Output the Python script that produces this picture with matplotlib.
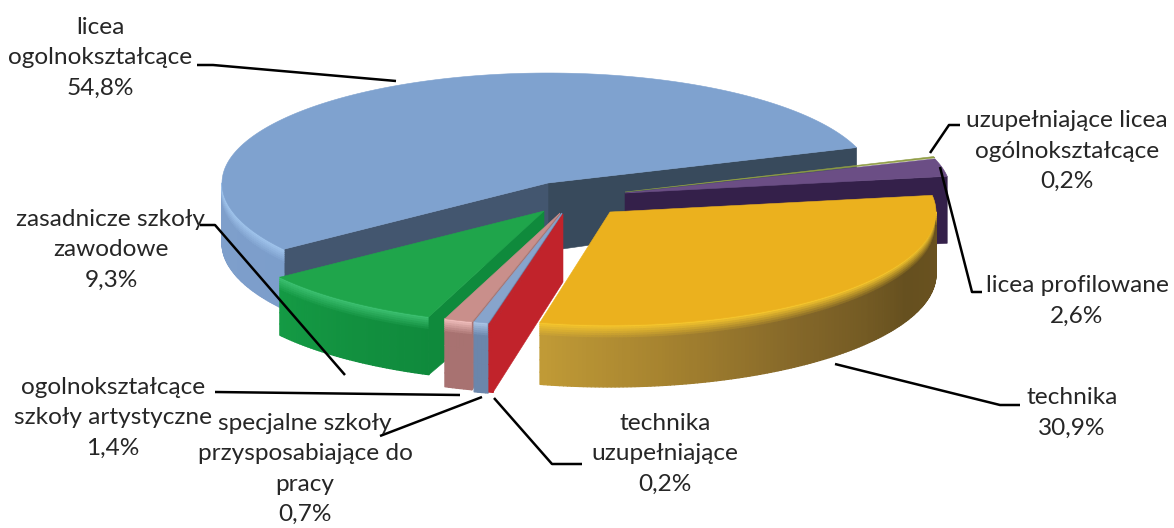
"""3D exploded pie: share of pupils by school type (drawn by hand, matplotlib has no 3D pie)."""
import numpy as np
import matplotlib
matplotlib.use("Agg")
import matplotlib.pyplot as plt
from matplotlib.collections import PolyCollection
from matplotlib.colors import to_rgb

plt.rcParams["font.family"] = ["Lato", "DejaVu Sans"]

# data, counter-clockwise starting from the big slice
SHARES = [54.8, 9.3, 1.4, 0.7, 0.2, 30.9, 2.6, 0.2]

LABELS = [
    "licea\nogolnokształcące\n54,8%",
    "zasadnicze szkoły\nzawodowe\n9,3%",
    "ogolnokształcące\nszkoły artystyczne\n1,4%",
    "specjalne szkoły\nprzysposabiające do\npracy\n0,7%",
    "technika\nuzupełniające\n0,2%",
    "technika\n30,9%",
    "licea profilowane\n2,6%",
    "uzupełniające licea\nogólnokształcące\n0,2%",
]

# layout (pixels)
START_ANGLE = 18.8
RX, RY_BACK, RY_FRONT = 326, 110, 113
APEX = [(548, 183), (544, 211), (560, 213), (562, 213), (563, 214), (610, 212), (625, 193), (625, 192)]
DEPTH_OUT = [60, 58, 68, 70, 68, 62, 67, 67]
DEPTH_IN = [68, 66, 68, 70, 68, 62, 67, 67]

LABEL_POS = [(100, 58), (111, 250), (113, 418), (305, 469), (665, 454), (1072, 413), (1077, 301), (1067, 151)]

LEADERS = [
    [(197, 65), (213, 65), (396, 81)],
    [(200, 225), (215, 225), (345, 375)],
    [(215, 392), (460, 395)],
    [(482, 397), (380, 436)],
    [(494, 398), (552, 464), (582, 464)],
    [(835, 364), (1000, 405), (1020, 405)],
    [(940, 167), (972, 292), (982, 292)],
    [(930, 153), (949, 125), (960, 125)],
]

# styles per slice
TOP = ["#7fa2cf", "#1fa54b", "#c98f8b", "#87a4cc", "#c1232b", "#ebb11e", "#6b4e85", "#8f9c45"]
RIM = ["#a0c4ec", "#3cc070", "#f0bdbb", "#a9c4e6", "#c1232b", "#f5c52c", "#6b4e85", "#8f9c45"]
FACE_END = [None, "#0f8a3c", "#a87271", "#6b86ab", "#c1232b", None, None, None]
SIDE_STOPS = [
    [(180, "#7f9fcb"), (216, "#7c9ecb")],
    [(216, "#149a44"), (235, "#12903f"), (250, "#0f8a3c")],
    [(250, "#a87271"), (255, "#a87271")],
    [(254, "#6b86ab"), (258, "#6b86ab")],
    [(257, "#c1232b"), (258, "#c1232b")],
    [(258, "#c09a36"), (280, "#a5822f"), (305, "#846729"), (335, "#66501f"), (360, "#6a5220")],
    [(0, "#34204a"), (360, "#34204a")],
    [(0, "#34204a"), (360, "#34204a")],
]
BLUE_FACES = ["#43566f", "#384a5c"]
PURPLE_FACE = "#34204a"

DRAW_ORDER = [0, 6, 7, 1, 2, 3, 4, 5]


def arc_xy(apex, deg):
    t = np.radians(deg)
    s = np.sin(t)
    ry = np.where(s < 0, RY_FRONT, RY_BACK)
    return apex[0] + RX * np.cos(t), apex[1] - ry * s


def side_color(stops, deg):
    a = [p[0] for p in stops]
    c = np.array([to_rgb(p[1]) for p in stops])
    return np.array([np.interp(deg, a, c[:, k]) for k in range(3)])


def draw_side(ax, i, a0, a1, zorder):
    # outer wall: only the part facing us (lower half of the ellipse)
    lo, hi = max(a0, 180), min(a1, 360)
    if hi <= lo:
        return
    angles = np.arange(lo, hi, 0.7)
    angles = np.append(angles, hi)
    d = DEPTH_OUT[i]
    rim_h = 13
    zs = np.concatenate([np.linspace(0, rim_h, 7), np.linspace(rim_h, d, 5)[1:]])
    rim = np.array(to_rgb(RIM[i]))
    polys, cols = [], []
    for k in range(len(angles) - 1):
        x0, y0 = arc_xy(APEX[i], angles[k])
        x1, y1 = arc_xy(APEX[i], angles[k + 1])
        base = side_color(SIDE_STOPS[i], angles[k])
        for j in range(len(zs) - 1):
            polys.append([(x0, y0 + zs[j]), (x1, y1 + zs[j]), (x1, y1 + zs[j + 1]), (x0, y0 + zs[j + 1])])
            t = min(zs[j] / rim_h, 1)
            col = rim * (1 - t) + base * t
            if zs[j] > d - 10:
                col = col * 0.93
            cols.append(col)
    # slightly wider edges so the strips close up without seams
    ax.add_collection(PolyCollection(polys, facecolors=cols, edgecolors=cols, linewidths=0.9, zorder=zorder))


def draw_face(ax, i, deg, color, zorder):
    x, y = arc_xy(APEX[i], deg)
    ax_, ay = APEX[i]
    pts = [(ax_, ay), (float(x), float(y)), (float(x), float(y) + DEPTH_OUT[i]), (ax_, ay + DEPTH_IN[i])]
    ax.fill(*zip(*pts), color=color, lw=0.4, zorder=zorder)


def draw_top(ax, i, a0, a1, zorder):
    angles = np.linspace(a0, a1, 200)
    x, y = arc_xy(APEX[i], angles)
    ax.fill(np.r_[APEX[i][0], x], np.r_[APEX[i][1], y], color=TOP[i], lw=0.4, zorder=zorder)


def main():
    fig = plt.figure(figsize=(11.74, 5.28), dpi=100, facecolor="white")
    ax = fig.add_axes([0, 0, 1, 1])
    ax.set_xlim(0, 1174)
    ax.set_ylim(528, 0)
    ax.axis("off")

    shares = np.array(SHARES) / sum(SHARES) * 360
    ends = START_ANGLE + np.cumsum(shares)
    starts = ends - shares

    for n, i in enumerate(DRAW_ORDER):
        z = 2 + n
        a0, a1 = starts[i], ends[i]
        if i == 0:
            draw_face(ax, 0, a0, BLUE_FACES[1], z)
            draw_face(ax, 0, a1, BLUE_FACES[0], z)
        if i == 6:
            draw_face(ax, i, a0, PURPLE_FACE, z)
        draw_side(ax, i, a0, a1, z)
        if FACE_END[i]:
            draw_face(ax, i, a1, FACE_END[i], z)
        draw_top(ax, i, a0, a1, z)

    for pts in LEADERS:
        ax.plot(*zip(*pts), color="black", lw=1.8, solid_capstyle="butt", zorder=20)

    for text, (x, y) in zip(LABELS, LABEL_POS):
        ax.text(x, y, text, ha="center", va="center", fontsize=17.6, color="#262626",
                linespacing=1.55, zorder=21)

    fig.savefig("out.png", dpi=100, facecolor="white")
    plt.close(fig)


if __name__ == "__main__":
    main()
